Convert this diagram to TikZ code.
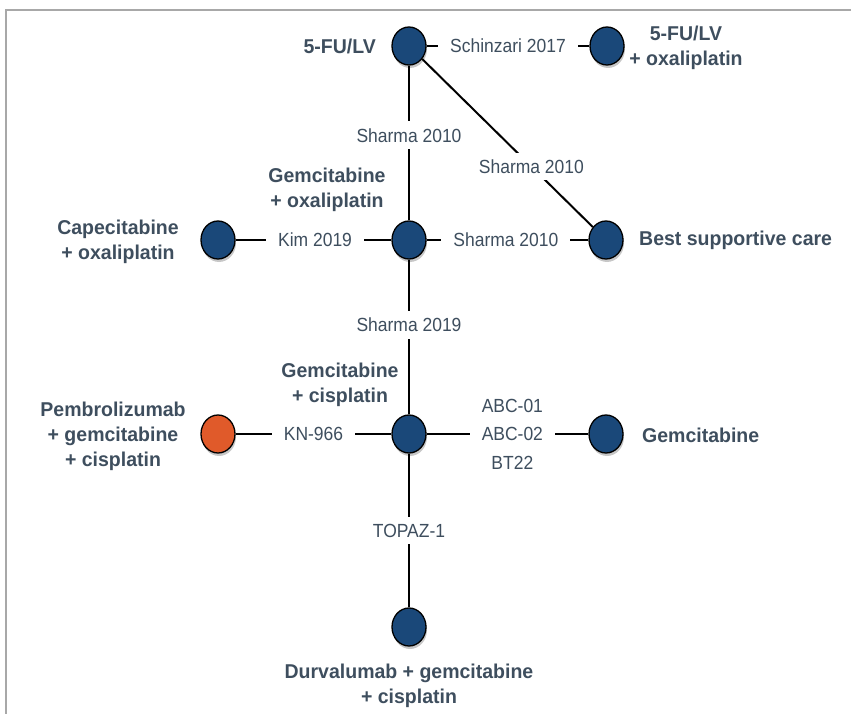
\documentclass[tikz,border=0pt]{standalone}
\usepackage{fontspec}
\setmainfont{Liberation Sans}
\newfontfamily\narrowfont[FakeStretch=0.92]{Liberation Sans}
\newfontfamily\boldlabelfont[FakeStretch=0.975]{Liberation Sans Bold}
\usetikzlibrary{shapes.geometric,shadows,backgrounds}
\definecolor{navy}{HTML}{1A4879}
\definecolor{orangec}{HTML}{E05A2A}
\definecolor{textc}{HTML}{3E4E5E}
\definecolor{framec}{HTML}{A8A8A8}
\tikzset{
  trt/.style={ellipse, draw=black, line width=1.3pt, fill=navy, minimum width=34pt, minimum height=38pt, inner sep=0pt,
    drop shadow={shadow xshift=1pt, shadow yshift=-3pt, opacity=0.22, fill=black}},
  trtor/.style={trt, fill=orangec},
  tlabel/.style={font=\boldlabelfont\fontsize{20}{25}\selectfont, text=textc, align=center, inner sep=0pt},
  elabel/.style={font=\narrowfont\fontsize{19}{28.5}\selectfont, text=textc, align=center, fill=white, inner xsep=12pt, inner ysep=7pt},
  edge/.style={draw=black, line width=2pt},
}
\begin{document}
\begin{tikzpicture}[x=1pt,y=-1pt]
\useasboundingbox (0,0) rectangle (851,714);
\draw[framec, line width=1.5pt] (6,714) coordinate (fbl) -- (6,10) coordinate (ftl) -- (851,10) coordinate (ftr);

\node[trt] (fu) at (409,46) {};
\node[trt] (fuox) at (607,46) {};
\node[trt] (gemox) at (409,240) {};
\node[trt] (cape) at (218,240) {};
\node[trt] (bsc) at (606,240) {};
\node[trt] (gemcis) at (409,434) {};
\node[trtor] (pembro) at (218,434) {};
\node[trt] (gem) at (606,434) {};
\node[trt] (durva) at (409,627) {};

\node[tlabel, anchor=east] (lfu) at (376,46) {5-FU/LV};
\node[tlabel] (lfuox) at (686,48) {5-FU/LV\\+ oxaliplatin};
\node[tlabel] (lgemox) at (327,190) {Gemcitabine\\+ oxaliplatin};
\node[tlabel] (lcape) at (118,242) {Capecitabine\\+ oxaliplatin};
\node[tlabel, anchor=west] (lbsc) at (639,240) {Best supportive care};
\node[tlabel] (lgemcis) at (340,385) {Gemcitabine\\+ cisplatin};
\node[tlabel] (lpembro) at (113,436) {Pembrolizumab\\+ gemcitabine\\+ cisplatin};
\node[tlabel, anchor=west] (lgem) at (642,435) {Gemcitabine};
\node[tlabel] (ldurva) at (409,686) {Durvalumab + gemcitabine\\+ cisplatin};

\begin{pgfonlayer}{background}
\draw[edge] (fu) -- node[elabel, pos=0.5] (e1) {Schinzari 2017} (fuox);
\draw[edge] (fu) -- node[elabel, pos=0.45] (e2) {Sharma 2010} (gemox);
\draw[edge] (fu) -- node[elabel, pos=0.64] (e3) {Sharma 2010} (bsc);
\draw[edge] (cape) -- node[elabel, pos=0.51] (e4) {Kim 2019} (gemox);
\draw[edge] (gemox) -- node[elabel, pos=0.49] (e5) {Sharma 2010} (bsc);
\draw[edge] (gemox) -- node[elabel, pos=0.42] (e6) {Sharma 2019} (gemcis);
\draw[edge] (pembro) -- node[elabel, pos=0.5] (e7) {KN-966} (gemcis);
\draw[edge] (gemcis) -- node[elabel, pos=0.53] (e8) {ABC-01\\ABC-02\\BT22} (gem);
\draw[edge] (gemcis) -- node[elabel, pos=0.5] (e9) {TOPAZ-1} (durva);
\end{pgfonlayer}
\end{tikzpicture}
\end{document}
